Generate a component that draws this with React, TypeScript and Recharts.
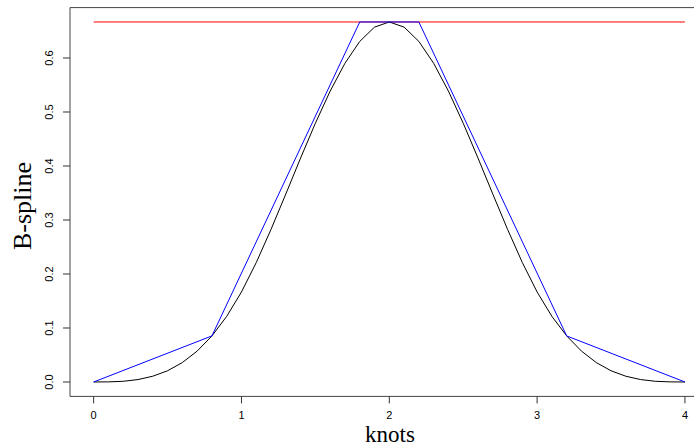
import { LineChart, Line, XAxis, YAxis, ReferenceArea } from 'recharts';

// knot positions sampled along the curve
const curveX = [
  0, 0.1, 0.2, 0.3, 0.4, 0.5, 0.6, 0.7, 0.8, 0.9, 1, 1.1, 1.2, 1.3, 1.4, 1.5, 1.6, 1.7, 1.8, 1.9, 2,
  2.1, 2.2, 2.3, 2.4, 2.5, 2.6, 2.7, 2.8, 2.9, 3, 3.1, 3.2, 3.3, 3.4, 3.5, 3.6, 3.7, 3.8, 3.9, 4,
];
const curveY = [
  0, 0.0002, 0.0013, 0.0045, 0.0107, 0.0208, 0.036, 0.0572, 0.0853, 0.1215, 0.1667, 0.2212, 0.2827,
  0.3482, 0.4147, 0.4792, 0.5387, 0.5902, 0.6307, 0.6572, 0.6667, 0.6572, 0.6307, 0.5902, 0.5387,
  0.4792, 0.4147, 0.3482, 0.2827, 0.2212, 0.1667, 0.1215, 0.0853, 0.0572, 0.036, 0.0208, 0.0107,
  0.0045, 0.0013, 0.0002, 0,
];

// control polygon
const polyX = [0, 0.8, 1.8, 2.2, 3.2, 4];
const polyY = [0, 0.0853, 0.6667, 0.6667, 0.0853, 0];

// horizontal max line
const maxX = [0, 4];
const maxY = [0.6667, 0.6667];

const xTicks = [0, 1, 2, 3, 4];
const yTicks = [0, 0.1, 0.2, 0.3, 0.4, 0.5, 0.6];

const toRows = (xs: number[], ys: number[]) => xs.map((x, i) => ({ x, y: ys[i] }));

const curveData = toRows(curveX, curveY);
const polyData = toRows(polyX, polyY);
const maxData = toRows(maxX, maxY);

const tickFont = '"Liberation Sans", Arial, sans-serif';
const titleFont = '"Liberation Serif", "Times New Roman", serif';

const XTick = ({ x, y, payload }: any) => (
  <text x={x} y={y + 16} textAnchor="middle" fontSize={11} fontFamily={tickFont} fill="#000">
    {payload.value}
  </text>
);

const YTick = ({ x, y, payload }: any) => (
  <text
    transform={`translate(${x - 10},${y}) rotate(-90)`}
    textAnchor="middle"
    fontSize={11}
    fontFamily={tickFont}
    fill="#000"
  >
    {payload.value.toFixed(1)}
  </text>
);

const App = () => {
  return (
    <div
      style={{
        position: 'fixed',
        left: 0,
        top: 0,
        width: 694,
        height: 447,
        overflow: 'hidden',
        background: '#fff',
      }}
    >
      <LineChart width={720} height={447} margin={{ top: 7.6, right: 11.4, bottom: 0, left: 0 }}>
        <XAxis
          dataKey="x"
          type="number"
          domain={[-0.16, 4.16]}
          ticks={xTicks}
          allowDataOverflow
          axisLine={false}
          tickLine={{ stroke: '#333' }}
          tickSize={7}
          tickMargin={0}
          height={50.6}
          tick={<XTick />}
        />
        <YAxis
          dataKey="y"
          type="number"
          domain={[-0.02667, 0.69333]}
          ticks={yTicks}
          allowDataOverflow
          axisLine={false}
          tickLine={{ stroke: '#333' }}
          tickSize={7}
          tickMargin={0}
          width={70}
          tick={<YTick />}
        />
        <ReferenceArea
          x1={-0.16}
          x2={4.16}
          y1={-0.02667}
          y2={0.69333}
          fill="none"
          stroke="#444"
          strokeWidth={1}
          ifOverflow="visible"
        />
        <Line
          data={maxData}
          dataKey="y"
          stroke="#ff0000"
          strokeWidth={1}
          dot={false}
          isAnimationActive={false}
        />
        <Line
          data={curveData}
          dataKey="y"
          stroke="#000"
          strokeWidth={1}
          dot={false}
          isAnimationActive={false}
        />
        <Line
          data={polyData}
          dataKey="y"
          stroke="#0000ff"
          strokeWidth={1}
          dot={false}
          isAnimationActive={false}
        />
      </LineChart>
      <svg
        width={694}
        height={447}
        style={{ position: 'absolute', left: 0, top: 0, pointerEvents: 'none' }}
      >
        <text
          transform="translate(31,206) rotate(-90)"
          textAnchor="middle"
          fontSize={26}
          fontFamily={titleFont}
          fill="#000"
        >
          B-spline
        </text>
        <text x={390} y={442} textAnchor="middle" fontSize={23} fontFamily={titleFont} fill="#000">
          knots
        </text>
      </svg>
    </div>
  );
};

export default App;
